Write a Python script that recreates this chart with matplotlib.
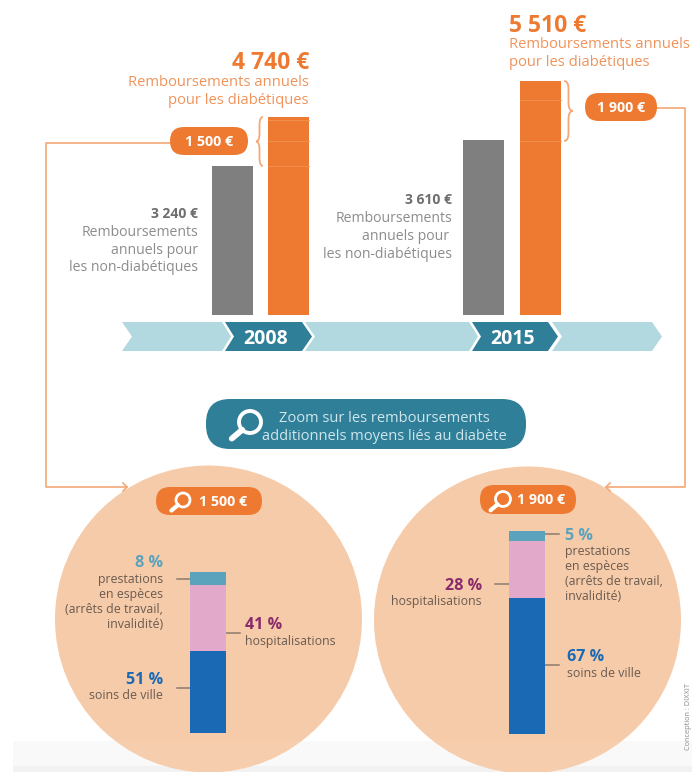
import matplotlib
matplotlib.use("Agg")
import matplotlib.pyplot as plt
from matplotlib.patches import Circle, FancyBboxPatch, Polygon, PathPatch, Rectangle
from matplotlib.path import Path

plt.rcParams['font.family'] = ['Open Sans', 'DejaVu Sans']

W, H = 692, 772
# ---- data ----
years = ['2008', '2015']
non_diab_labels = ['3 240 €', '3 610 €']
diab_labels = ['4 740 €', '5 510 €']
extra_labels = ['1 500 €', '1 900 €']
# apparent bar heights as drawn in the infographic (not proportional to the labels)
non_diab_heights = [149, 175]
diab_heights = [198, 234]
extra_heights = [49, 60]
faint_rule_depths = [[3, 24, 49], [19, 60]]
shares_ville = [51, 67]
shares_hosp = [41, 28]
shares_prest = [8, 5]

ORANGE = '#ED7A30'; ORANGE_T = '#F0935A'; LINE = '#F5A877'
GREY = '#7F7F7F'; GREY_T = '#8C8C8C'; GREY_B = '#6E6E6E'
TEAL = '#307F99'; LIGHT = '#B2D8E0'; PEACH = '#F6CBA9'
C_V = '#1A69B5'; C_H = '#E2A9CB'; C_P = '#5BA2BD'; C_HT = '#8A2A6B'; DARK = '#6B5B50'; TICK = '#8C7B6E'

fig = plt.figure(figsize=(W/100, H/100), dpi=100, facecolor='white')
ax = fig.add_axes([0, 0, 1, 1], zorder=1)
ax.set_xlim(0, W); ax.set_ylim(H, 0); ax.axis('off')


def pill(x0, y0, x1, y1, color, r=14, z=5):
    ax.add_patch(FancyBboxPatch((x0 + r, y0 + r), x1 - x0 - 2*r, y1 - y0 - 2*r,
                                boxstyle=f'round,pad={r},rounding_size={r}', fc=color, ec='none', zorder=z))


def lens(cx, cy, r, lw, color='white', z=7):
    ax.add_patch(Circle((cx, cy), r, fc='none', ec=color, lw=lw, zorder=z))
    k = 0.707
    ax.plot([cx - r*k, cx - r*k - r*0.95], [cy + r*k, cy + r*k + r*0.8], color=color, lw=lw*1.5,
            solid_capstyle='round', zorder=z)


def t(x, y, s, size, color, ha='left', weight='normal', z=8, **kw):
    # y is the visual centre of the glyphs; shift past the descender room matplotlib reserves
    dy = 0 if kw.get('rotation') else (size * 0.2 if size > 12 else size * 0.1)
    ax.text(x, y + dy, s, fontsize=size, color=color, ha=ha, va='center', fontweight=weight, zorder=z, **kw)


def brace(x_base, x_tip, y0, y1):
    ym = (y0 + y1) / 2
    xm = (x_base + x_tip) / 2
    verts = [(x_base, y0), (xm, y0), (xm, y0+8),
             (xm, ym-8), (xm, ym), (x_tip, ym),
             (xm, ym), (xm, ym+8), (xm, y1-8),
             (xm, y1), (x_base, y1), (x_base, y1)]
    codes = [Path.MOVETO] + [Path.CURVE3, Path.CURVE3] + [Path.LINETO] + [Path.CURVE3, Path.CURVE3] + \
            [Path.CURVE3, Path.CURVE3] + [Path.LINETO] + [Path.CURVE3, Path.CURVE3] + [Path.LINETO]
    ax.add_patch(PathPatch(Path(verts, codes), fc='none', ec=LINE, lw=1.3, zorder=4))


# ---- grey band at the foot ----
ax.add_patch(Rectangle((13, 741), W - 13, 25, fc='#F9F9F9', ec='none', zorder=0))
ax.add_patch(Rectangle((13, 766), W - 13, 6, fc='#F2F2F2', ec='none', zorder=0))

# ---- circles ----
for cx, cy in [(208.5, 619), (527.5, 620)]:
    ax.add_patch(Circle((cx, cy), 153.5, fc=PEACH, ec='none', zorder=1))
ax.add_patch(Rectangle((13, 741), W - 13, 31, fc='#FFFFFF', alpha=0.06, ec='none', zorder=2))

# ---- timeline ----
def chevron(x0, notch, x1, tip, color, z=2):
    ax.add_patch(Polygon([(x0, 322), (x1, 322), (tip, 336.5), (x1, 351), (x0, 351), (notch, 336.5)],
                         closed=True, fc=color, ec='none', zorder=z))

chevron(122, 132, 222, 231, LIGHT)
chevron(305, 315, 469, 478, LIGHT)
chevron(552, 562, 652, 662, LIGHT)
chevron(225, 234, 302, 312, TEAL, 3)
chevron(472, 481, 548, 558, TEAL, 3)
t(266, 336, years[0], 14, 'white', 'center', 'bold')
t(513, 336, years[1], 14, 'white', 'center', 'bold')

# ---- main bars ----
bar_ax = fig.add_axes([0, (H - 315) / H, 1, 315 / H], zorder=2)
bar_ax.set_xlim(0, W); bar_ax.set_ylim(0, 315); bar_ax.axis('off'); bar_ax.patch.set_alpha(0)
grey_x = [232.5, 483.5]
or_x = [288.5, 540.5]
bar_ax.bar(grey_x, non_diab_heights, width=41, color=GREY)
bar_ax.bar(or_x, diab_heights, width=41, color=ORANGE)
for x, h, depths in zip(or_x, diab_heights, faint_rule_depths):
    for d in depths:
        bar_ax.plot([x - 20.5, x + 20.5], [h - d, h - d], color='#F19255', lw=0.6)

# ---- labels above / beside bars ----
t(309, 60, diab_labels[0], 16.5, ORANGE, 'right', 'bold')
t(309, 81, 'Remboursements annuels', 10.6, ORANGE_T, 'right')
t(309, 99, 'pour les diabétiques', 10.6, ORANGE_T, 'right')
t(509, 23, diab_labels[1], 16.5, ORANGE, 'left', 'bold')
t(509, 43, 'Remboursements annuels', 10.6, ORANGE_T, 'left')
t(509, 61, 'pour les diabétiques', 10.6, ORANGE_T, 'left')

t(198, 213, non_diab_labels[0], 10, GREY_B, 'right', 'bold')
t(198, 231, 'Remboursements', 10.1, GREY_T, 'right')
t(198, 249, 'annuels pour', 10.1, GREY_T, 'right')
t(198, 266, 'les non-diabétiques', 10.1, GREY_T, 'right')
t(452, 199, non_diab_labels[1], 10, GREY_B, 'right', 'bold')
t(452, 217, 'Remboursements', 10.1, GREY_T, 'right')
t(449, 235, 'annuels pour', 10.1, GREY_T, 'right')
t(452, 253, 'les non-diabétiques', 10.1, GREY_T, 'right')

# ---- braces, pills, connectors ----
brace(263, 256, 117, 166)
brace(564, 573, 81, 141)
pill(170, 127, 248, 155, ORANGE)
pill(585, 93, 657, 121, ORANGE)
t(209, 141, extra_labels[0], 10.3, 'white', 'center', 'bold')
t(621, 107, extra_labels[1], 10.3, 'white', 'center', 'bold')

ax.plot([170, 46, 46, 127], [143, 143, 487, 487], color=LINE, lw=1.2, zorder=3)
ax.plot([123, 127, 123], [483, 487, 491], color=LINE, lw=1.2, zorder=3)
ax.plot([657, 685, 685, 606], [108, 108, 487, 487], color=LINE, lw=1.2, zorder=3)
ax.plot([610, 606, 610], [483, 487, 491], color=LINE, lw=1.2, zorder=3)

# ---- zoom banner ----
pill(206, 399, 526, 449, TEAL, r=24)
lens(250, 422, 11, 2.8)
t(384, 417, 'Zoom sur les remboursements', 10.5, '#CFE6EC', 'center')
t(384, 435, 'additionnels moyens liés au diabète', 10.5, '#CFE6EC', 'center')

# ---- lower pills ----
pill(156, 487, 262, 515, ORANGE)
lens(183, 500, 7, 2.0)
t(199, 501, extra_labels[0], 10.3, 'white', 'left', 'bold')
pill(480, 485, 576, 514, ORANGE)
lens(503, 499, 7.5, 2.0)
t(517, 499, extra_labels[1], 10.3, 'white', 'left', 'bold')

# ---- stacked bars ----
stack_boxes = [(190, 572, 36, 161), (509, 531, 36, 203)]
for i, (x0, y0, w, h) in enumerate(stack_boxes):
    sa = fig.add_axes([x0 / W, (H - y0 - h) / H, w / W, h / H], zorder=3)
    sa.set_xlim(0, 1); sa.set_ylim(0, 100); sa.axis('off')
    sa.bar([0.5], [shares_ville[i]], width=1, color=C_V)
    sa.bar([0.5], [shares_hosp[i]], width=1, bottom=[shares_ville[i]], color=C_H)
    sa.bar([0.5], [shares_prest[i]], width=1, bottom=[shares_ville[i] + shares_hosp[i]], color=C_P)

def tick(x0, x1, y):
    ax.plot([x0, x1], [y, y], color=TICK, lw=1.1, zorder=4)

tick(177, 190, 579); tick(226, 240, 633); tick(177, 190, 688)
tick(545, 559, 534); tick(495, 509, 584); tick(545, 559, 665)

lab = 8.9
pct = 11.6
t(163, 562, f'{shares_prest[0]} %', pct, C_P, 'right', 'bold')
for y, s in zip([579, 594, 609, 624], ['prestations', 'en espèces', '(arrêts de travail,', 'invalidité)']):
    t(163, y, s, lab, DARK, 'right')
t(245, 624, f'{shares_hosp[0]} %', pct, C_HT, 'left', 'bold')
t(245, 641, 'hospitalisations', lab, DARK, 'left')
t(163, 679, f'{shares_ville[0]} %', pct, C_V, 'right', 'bold')
t(163, 695, 'soins de ville', lab, DARK, 'right')

t(565, 535, f'{shares_prest[1]} %', pct, C_P, 'left', 'bold')
for y, s in zip([551, 566, 581, 596], ['prestations', 'en espèces', '(arrêts de travail,', 'invalidité)']):
    t(565, y, s, lab, DARK, 'left')
t(482, 585, f'{shares_hosp[1]} %', pct, C_HT, 'right', 'bold')
t(482, 601, 'hospitalisations', lab, DARK, 'right')
t(567, 656, f'{shares_ville[1]} %', pct, C_V, 'left', 'bold')
t(567, 673, 'soins de ville', lab, DARK, 'left')

t(689, 716, 'Conception : DIXXIT', 5.3, '#888888', 'center', rotation=90)

fig.savefig('out.png', dpi=100, facecolor='white')
